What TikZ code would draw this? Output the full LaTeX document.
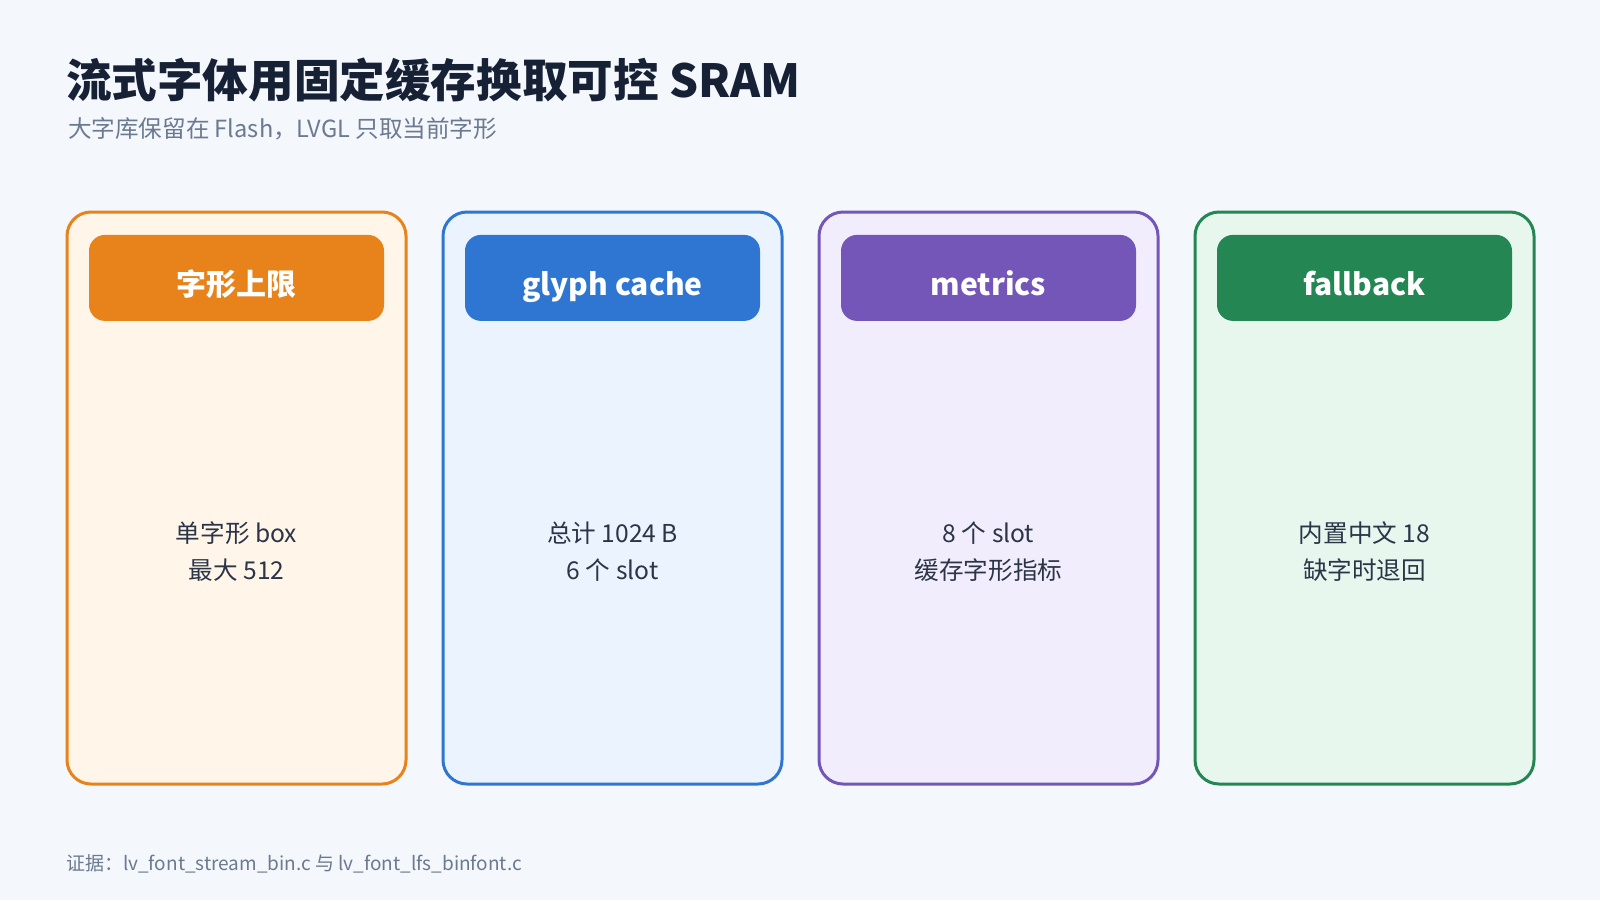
\documentclass[tikz,border=0pt]{standalone}
\usepackage{fontspec}
\setmainfont{Noto Sans CJK SC}
\usepackage{xcolor}
\definecolor{page-bg}{HTML}{F4F7FB}
\definecolor{title-ink}{HTML}{172135}
\definecolor{sub-ink}{HTML}{6B7A90}
\definecolor{body-ink}{HTML}{2A3547}
\definecolor{c-orange}{HTML}{E8821A}
\definecolor{f-orange}{HTML}{FFF5E9}
\definecolor{c-blue}{HTML}{2F76D2}
\definecolor{f-blue}{HTML}{EBF3FE}
\definecolor{c-purple}{HTML}{7356B8}
\definecolor{f-purple}{HTML}{F2EDFD}
\definecolor{c-green}{HTML}{238653}
\definecolor{f-green}{HTML}{E7F7EE}
\usetikzlibrary{positioning}

\begin{document}
\begin{tikzpicture}[x=.5pt,y=-.5pt,
	card/.style={draw=c-#1,fill=f-#1,line width=1.5pt,rounded corners=12pt,
		minimum width=169.5pt,minimum height=286pt,inner sep=0pt},
	cardhead/.style={fill=c-#1,rounded corners=8pt,minimum width=147.5pt,
		minimum height=43pt,inner sep=0pt,text=white,
		text height=18pt,text depth=0pt,
		font=\fontsize{15}{18}\selectfont\bfseries},
	cardtext/.style={text=body-ink,align=center,
		font=\fontsize{12.3}{18.5}\selectfont}]
	\fill[page-bg] (0,0) rectangle (1600,900);
	
	\node[anchor=west,text=title-ink,font=\fontsize{22.8}{27}\selectfont\bfseries]
		(title) at (59,80) {流式字体用固定缓存换取可控 SRAM};
	\node[anchor=west,text=sub-ink,font=\fontsize{11.8}{14}\selectfont]
		(subtitle) at (61,129) {大字库保留在 Flash，LVGL 只取当前字形};
	
	\foreach \i/\x/\col/\head/\body in {
		1/236.5/orange/{字形上限}/{单字形 box\\最大 512},
		2/612.5/blue/{glyph cache}/{总计 1024 B\\6 个 slot},
		3/988.5/purple/{metrics}/{8 个 slot\\缓存字形指标},
		4/1364.5/green/{fallback}/{内置中文 18\\缺字时退回}}{
		\node[card=\col] (card\i) at (\x,498) {};
		\node[cardhead=\col,below=12pt of card\i.north] (head\i) {\head};
		\node[cardtext] (body\i) at (\x,552) {\body};
	}
	
	\node[anchor=west,text=sub-ink,font=\fontsize{9.5}{11}\selectfont]
		(source) at (59,864) {证据：lv\_font\_stream\_bin.c 与 lv\_font\_lfs\_binfont.c};
\end{tikzpicture}
\end{document}
